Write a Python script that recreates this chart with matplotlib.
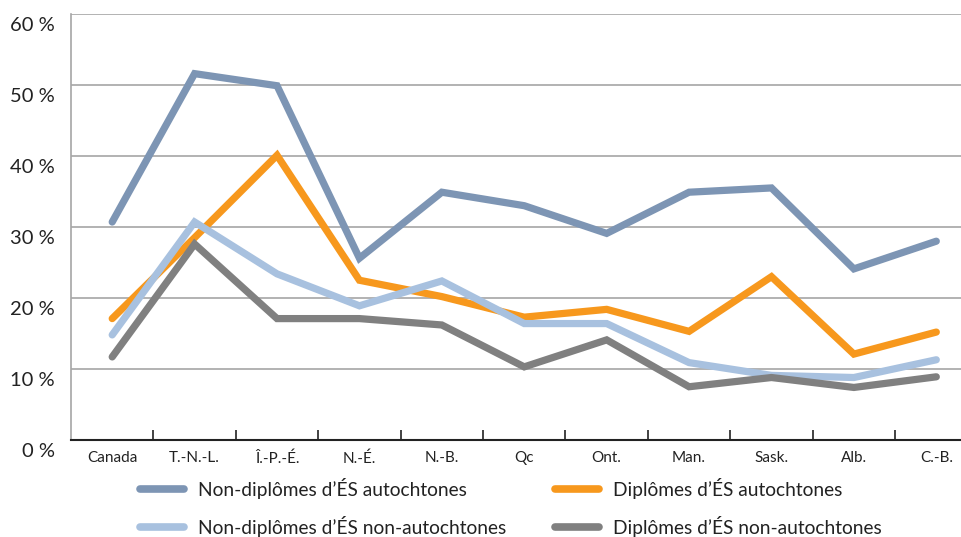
import matplotlib
matplotlib.use("Agg")
import matplotlib.pyplot as plt
import matplotlib.transforms as mtransforms
from matplotlib.ticker import FixedLocator

categories = ["Canada", "T.-N.-L.", "Î.-P.-É.", "N.-É.", "N.-B.", "Qc", "Ont.", "Man.", "Sask.", "Alb.", "C.-B."]
non_dipl_auto = [30.7, 51.6, 49.9, 25.6, 34.9, 33.0, 29.1, 34.9, 35.5, 24.1, 28.0]
dipl_auto = [17.1, 28.5, 40.1, 22.5, 20.2, 17.3, 18.4, 15.3, 23.0, 12.1, 15.2]
non_dipl_non_auto = [14.8, 30.7, 23.4, 18.9, 22.4, 16.4, 16.4, 10.9, 9.1, 8.8, 11.3]
dipl_non_auto = [11.7, 27.6, 17.1, 17.1, 16.2, 10.3, 14.1, 7.5, 8.8, 7.4, 8.9]
series_names = ["Non-diplômes d’ÉS autochtones", "Diplômes d’ÉS autochtones",
                "Non-diplômes d’ÉS non-autochtones", "Diplômes d’ÉS non-autochtones"]
y_ticks = [0, 10, 20, 30, 40, 50, 60]

plt.rcParams['font.family'] = ['Lato', 'DejaVu Sans']

W, H = 962, 537
fig = plt.figure(figsize=(W / 100, H / 100), dpi=100)
left, right, top, bottom = 71, 977.5, 14, 440
ax = fig.add_axes([left / W, (H - bottom) / H, (right - left) / W, (bottom - top) / H])

colors = ["#7D95B4", "#F7981D", "#A8C1DF", "#808080"]
data = [non_dipl_auto, dipl_auto, non_dipl_non_auto, dipl_non_auto]
x = list(range(len(categories)))
handles = []
for vals, c, name in zip(data, colors, series_names):
    h, = ax.plot(x, vals, color=c, lw=5.2, solid_capstyle='round', solid_joinstyle='miter', label=name, zorder=3)
    handles.append(h)

ax.set_xlim(-0.5, len(categories) - 0.5)
ax.set_ylim(0, 60)
ax.set_yticks(y_ticks)
ax.set_yticklabels([f"{v} %" for v in y_ticks], fontsize=14.5, color="#222222")
ax.tick_params(axis='y', length=0, pad=11.5)
offset = mtransforms.ScaledTranslation(0, -10 / 100, fig.dpi_scale_trans)
for lab in ax.get_yticklabels():
    lab.set_transform(lab.get_transform() + offset)

ax.set_xticks(x)
ax.set_xticklabels(categories, fontsize=11, color="#222222")
ax.tick_params(axis='x', which='major', length=0, pad=8)
ax.xaxis.set_minor_locator(FixedLocator([i + 0.5 for i in range(len(categories) - 1)]))
ax.tick_params(axis='x', which='minor', direction='in', length=7, width=1.2, color='#222222')

ax.grid(axis='y', color='#A6A6A6', lw=1.2, zorder=0)
ax.set_axisbelow(True)
for s in ['top', 'right']:
    ax.spines[s].set_visible(False)
ax.spines['left'].set_color('#A6A6A6')
ax.spines['left'].set_linewidth(1.2)
ax.spines['bottom'].set_color('#222222')
ax.spines['bottom'].set_linewidth(1.5)

order = [0, 2, 1, 3]
leg = fig.legend([handles[i] for i in order], [series_names[i] for i in order], ncol=2,
                 loc='upper left', bbox_to_anchor=(132 / W, 1 - 470 / H), frameon=False,
                 fontsize=13.8, handlelength=2.3, handletextpad=0.72, columnspacing=2.55,
                 labelspacing=0.9, labelcolor='#222222', borderaxespad=0)
for lh in leg.get_lines():
    lh.set_linewidth(5.5)
    lh.set_solid_capstyle('round')

fig.savefig("out.png", dpi=100)
